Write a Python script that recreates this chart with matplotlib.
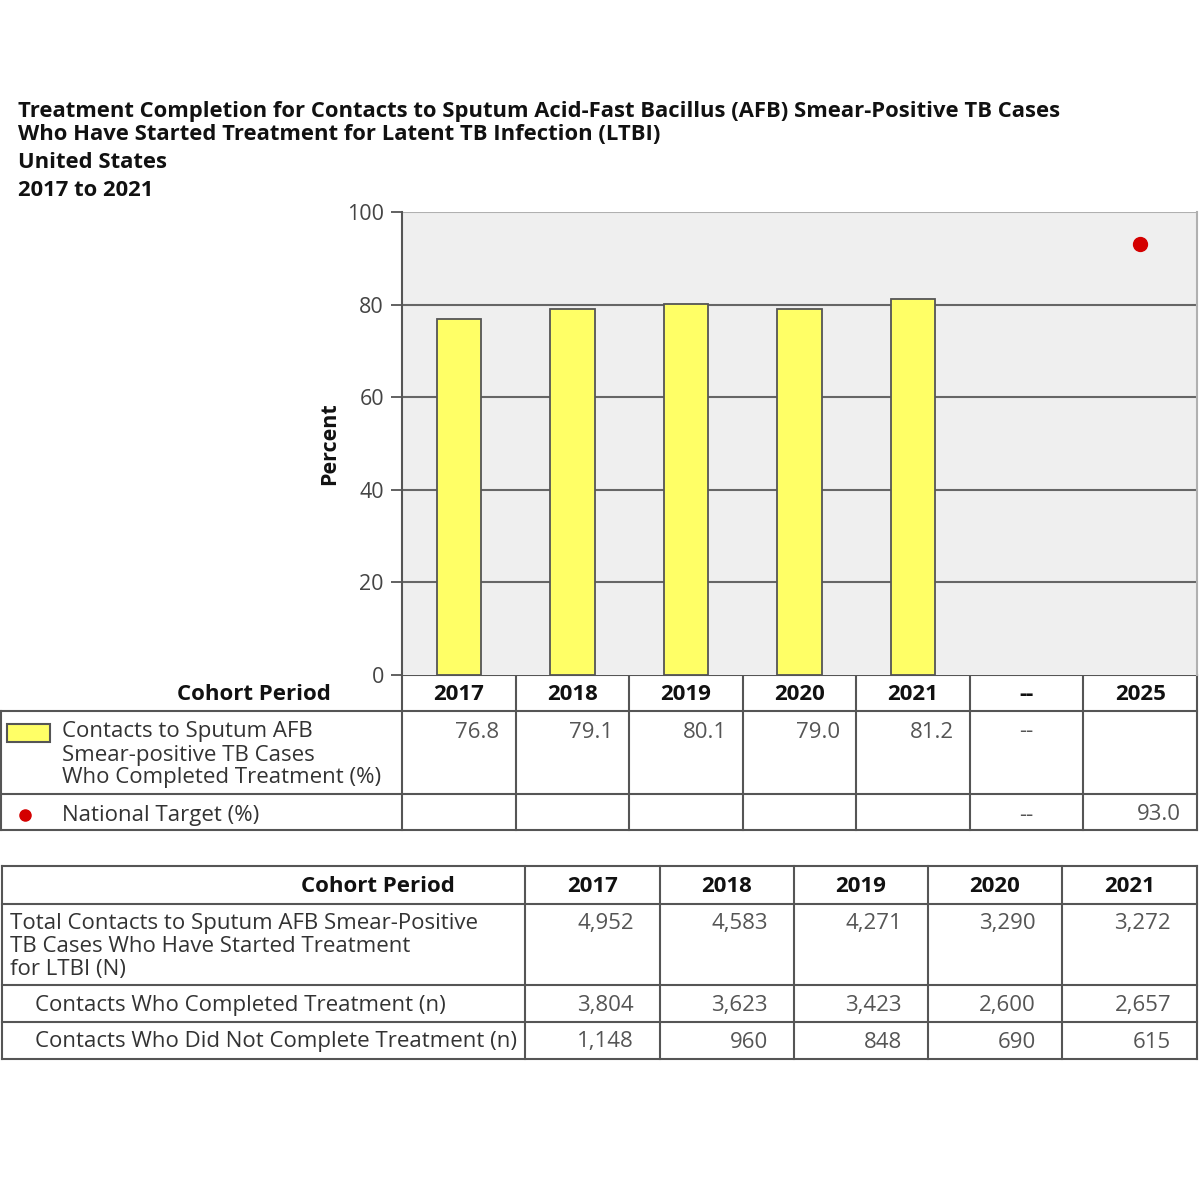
import matplotlib
matplotlib.use('Agg')
import matplotlib.pyplot as plt
import matplotlib.patches as mpatches
import numpy as np

plt.rcParams['font.family'] = ['Open Sans', 'DejaVu Sans']

# data
periods = ['2017', '2018', '2019', '2020', '2021', '--', '2025']
pct_completed = [76.8, 79.1, 80.1, 79.0, 81.2]
target_period = '2025'
target_value = 93.0

years = ['2017', '2018', '2019', '2020', '2021']
total_started = [4952, 4583, 4271, 3290, 3272]
completed_n = [3804, 3623, 3423, 2600, 2657]
not_completed_n = [1148, 960, 848, 690, 615]

title_lines = ['Treatment Completion for Contacts to Sputum Acid-Fast Bacillus (AFB) Smear-Positive TB Cases',
               'Who Have Started Treatment for Latent TB Infection (LTBI)']

W = H = 1200
fig = plt.figure(figsize=(12, 12), dpi=100)
fig.patch.set_facecolor('white')

# overlay in pixel coords for titles and tables
tx = fig.add_axes([0, 0, 1, 1])
tx.set_xlim(0, W)
tx.set_ylim(H, 0)
tx.axis('off')

# chart
left, right, top, bottom = 402, 1197, 212, 675
ax = fig.add_axes([left / W, 1 - bottom / H, (right - left) / W, (bottom - top) / H])
ax.set_facecolor('#efefef')
X = np.arange(len(periods))
ax.bar(X[:len(pct_completed)], pct_completed, width=0.39, color='#ffff66',
       edgecolor='#555555', linewidth=1.3, zorder=3)
ax.plot([periods.index(target_period)], [target_value], 'o', color='#d40000',
        markersize=10, zorder=4)
ax.set_xlim(-0.5, len(periods) - 0.5)
ax.set_ylim(0, 100)
ax.set_yticks([0, 20, 40, 60, 80, 100])
for v in [20, 40, 60, 80]:
    ax.axhline(v, color='#666666', lw=1.5, zorder=1)
ax.axhline(100, color='#b0b0b0', lw=1.5, zorder=1)
ax.set_xticks([])
ax.tick_params(axis='y', length=8, width=1.3, color='#555555', labelsize=15.5,
               labelcolor='#444444', pad=5)
for s in ['top', 'bottom']:
    ax.spines[s].set_visible(False)
ax.spines['left'].set_color('#555555')
ax.spines['left'].set_linewidth(1.5)
ax.spines['right'].set_color('#b0b0b0')
ax.spines['right'].set_linewidth(1.5)
ax.set_ylabel('Percent', fontsize=15.5, fontweight='bold', color='#111111', labelpad=5)

# titles
tkw = dict(fontsize=15.8, fontweight='bold', color='#111111', va='center', ha='left')
tx.text(18, 112, title_lines[0], **tkw)
tx.text(18, 134, title_lines[1], **tkw)
tx.text(18, 162, 'United States', **tkw)
tx.text(18, 190, '2017 to 2021', **tkw)

lc = '#555555'
lw = 1.5
fs = 16
valc = '#555555'
labc = '#333333'

# table 1
cols1 = np.linspace(left, right, len(periods) + 1)
for yy, x0 in [(675, left), (711, 0), (794, 0), (830, 0)]:
    tx.plot([x0, right], [yy, yy], color=lc, lw=lw)
for xx in cols1:
    tx.plot([xx, xx], [675, 830], color=lc, lw=lw)
tx.plot([1, 1], [711, 830], color=lc, lw=lw)
tx.text(331, 694, 'Cohort Period', fontsize=fs, fontweight='bold', color='#111111',
        ha='right', va='center')
for i, p in enumerate(periods):
    cx = (cols1[i] + cols1[i + 1]) / 2
    tx.text(cx, 694, p, fontsize=fs, fontweight='bold', color='#111111',
            ha='center', va='center')
for i, v in enumerate(pct_completed):
    tx.text(cols1[i + 1] - 16, 732, f'{v:.1f}', fontsize=fs, color=valc,
            ha='right', va='center')
dash_i = periods.index('--')
tx.text((cols1[dash_i] + cols1[dash_i + 1]) / 2, 732, '--', fontsize=fs, color=valc,
        ha='center', va='center')
tx.text((cols1[dash_i] + cols1[dash_i + 1]) / 2, 815, '--', fontsize=fs, color=valc,
        ha='center', va='center')
ti = periods.index(target_period)
tx.text(cols1[ti + 1] - 16, 815, f'{target_value:.1f}', fontsize=fs, color=valc,
        ha='right', va='center')

tx.add_patch(mpatches.Rectangle((7, 724), 43, 18, facecolor='#ffff66',
                                edgecolor='#555555', lw=1.5))
for k, line in enumerate(['Contacts to Sputum AFB', 'Smear-positive TB Cases',
                          'Who Completed Treatment (%)']):
    tx.text(62, 732 + 23 * k, line, fontsize=fs, color=labc, ha='left', va='center')
tx.plot([25], [815], 'o', color='#d40000', markersize=8)
tx.text(62, 815, 'National Target (%)', fontsize=fs, color=labc, ha='left', va='center')

# table 2
cols2 = [2, 525, 660, 794, 928, 1062, 1197]
for yy in [866, 904, 985, 1022, 1059]:
    tx.plot([2, right], [yy, yy], color=lc, lw=lw)
for xx in cols2:
    tx.plot([xx, xx], [866, 1059], color=lc, lw=lw)
tx.text(455, 886, 'Cohort Period', fontsize=fs, fontweight='bold', color='#111111',
        ha='right', va='center')
for i, y in enumerate(years):
    tx.text((cols2[i + 1] + cols2[i + 2]) / 2, 886, y, fontsize=fs, fontweight='bold',
            color='#111111', ha='center', va='center')
for k, line in enumerate(['Total Contacts to Sputum AFB Smear-Positive',
                          'TB Cases Who Have Started Treatment', 'for LTBI (N)']):
    tx.text(10, 924 + 22.5 * k, line, fontsize=fs, color=labc, ha='left', va='center')
tx.text(35, 1005, 'Contacts Who Completed Treatment (n)', fontsize=fs, color=labc,
        ha='left', va='center')
tx.text(35, 1042, 'Contacts Who Did Not Complete Treatment (n)', fontsize=fs, color=labc,
        ha='left', va='center')
for rowy, vals in [(924, total_started), (1005, completed_n), (1042, not_completed_n)]:
    for i, v in enumerate(vals):
        tx.text(cols2[i + 2] - 26, rowy, f'{v:,}', fontsize=fs, color=valc,
                ha='right', va='center')

fig.savefig('out.png', dpi=100)
